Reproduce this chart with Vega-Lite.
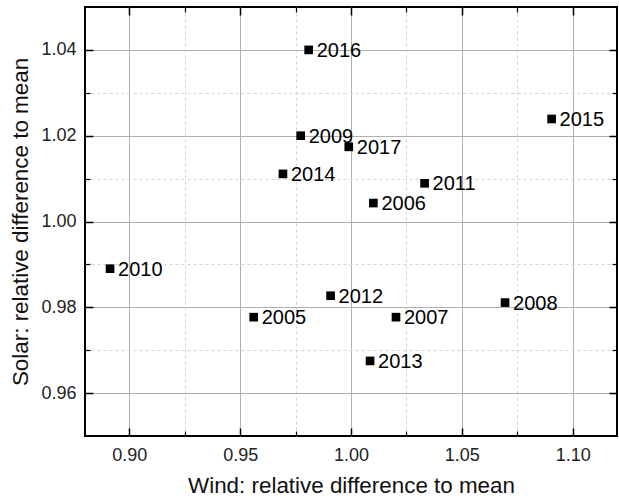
{
  "$schema": "https://vega.github.io/schema/vega-lite/v6.json",
  "width": 532,
  "height": 429,
  "autosize": {"type": "none"},
  "padding": {"left": 85, "top": 7, "right": 2, "bottom": 64},
  "background": "#ffffff",
  "config": {
    "font": "Liberation Sans",
    "view": {"stroke": "#000000", "strokeWidth": 2},
    "axis": {"labelFont": "Liberation Sans", "titleFont": "Liberation Sans", "titleFontWeight": "normal", "tickColor": "#000000", "domain": false}
  },
  "data": {
    "values": [
      {"year": "2005", "wind": 0.9561, "solar": 0.9777},
      {"year": "2006", "wind": 1.0101, "solar": 1.0043},
      {"year": "2007", "wind": 1.0203, "solar": 0.9777},
      {"year": "2008", "wind": 1.0695, "solar": 0.9811},
      {"year": "2009", "wind": 0.9773, "solar": 1.0200},
      {"year": "2010", "wind": 0.8913, "solar": 0.9890},
      {"year": "2011", "wind": 1.0332, "solar": 1.0089},
      {"year": "2012", "wind": 0.9908, "solar": 0.9827},
      {"year": "2013", "wind": 1.0086, "solar": 0.9675},
      {"year": "2014", "wind": 0.9693, "solar": 1.0111},
      {"year": "2015", "wind": 1.0905, "solar": 1.0239},
      {"year": "2016", "wind": 0.9809, "solar": 1.0400},
      {"year": "2017", "wind": 0.9990, "solar": 1.0174}
    ]
  },
  "resolve": {"axis": {"x": "independent", "y": "independent"}},
  "layer": [
    {
      "mark": {"type": "point", "opacity": 0},
      "encoding": {
        "x": {"field": "wind", "type": "quantitative", "scale": {"domain": [0.88, 1.12], "nice": false, "zero": false},
          "axis": {"orient": "bottom", "values": [0.925, 0.975, 1.025, 1.075], "grid": true, "gridDash": [3, 3], "gridColor": "#d4d4d4", "gridWidth": 1, "tickSize": -5, "tickWidth": 1.2, "labels": false, "title": null}},
        "y": {"field": "solar", "type": "quantitative", "scale": {"domain": [0.95, 1.05], "nice": false, "zero": false},
          "axis": {"orient": "left", "values": [0.97, 0.99, 1.01, 1.03], "grid": true, "gridDash": [3, 3], "gridColor": "#d4d4d4", "gridWidth": 1, "tickSize": -5, "tickWidth": 1.2, "labels": false, "title": null}}
      }
    },
    {
      "mark": {"type": "point", "opacity": 0},
      "encoding": {
        "x": {"field": "wind", "type": "quantitative",
          "axis": {"orient": "top", "values": [0.925, 0.975, 1.025, 1.075], "grid": false, "tickSize": -5, "tickWidth": 1.2, "labels": false, "title": null}},
        "y": {"field": "solar", "type": "quantitative",
          "axis": {"orient": "right", "values": [0.97, 0.99, 1.01, 1.03], "grid": false, "tickSize": -5, "tickWidth": 1.2, "labels": false, "title": null}}
      }
    },
    {
      "mark": {"type": "point", "opacity": 0},
      "encoding": {
        "x": {"field": "wind", "type": "quantitative",
          "axis": {"orient": "top", "values": [0.9, 0.95, 1.0, 1.05, 1.1], "grid": false, "tickSize": -8, "tickWidth": 1.5, "labels": false, "title": null}},
        "y": {"field": "solar", "type": "quantitative",
          "axis": {"orient": "right", "values": [0.96, 0.98, 1.0, 1.02, 1.04], "grid": false, "tickSize": -8, "tickWidth": 1.5, "labels": false, "title": null}}
      }
    },
    {
      "mark": {"type": "square", "color": "#000000", "opacity": 1, "size": 75},
      "encoding": {
        "x": {"field": "wind", "type": "quantitative",
          "axis": {"orient": "bottom", "values": [0.9, 0.95, 1.0, 1.05, 1.1], "format": ".2f", "grid": true, "gridColor": "#b0b0b0", "gridWidth": 1, "tickSize": -8, "tickWidth": 1.5, "labelPadding": 18, "labelFontSize": 18, "labelColor": "#222222", "title": "Wind: relative difference to mean", "titleFontSize": 22.4, "titleColor": "#111111", "titlePadding": 10}},
        "y": {"field": "solar", "type": "quantitative",
          "axis": {"orient": "left", "values": [0.96, 0.98, 1.0, 1.02, 1.04], "format": ".2f", "grid": true, "gridColor": "#b0b0b0", "gridWidth": 1, "tickSize": -8, "tickWidth": 1.5, "labelPadding": 17, "labelFontSize": 18, "labelColor": "#222222", "title": "Solar: relative difference to mean", "titleFontSize": 22.4, "titleColor": "#111111", "titlePadding": 8}}
      }
    },
    {
      "mark": {"type": "text", "align": "left", "baseline": "middle", "dx": 8, "dy": 1, "fontSize": 20, "color": "#000000"},
      "encoding": {
        "x": {"field": "wind", "type": "quantitative", "axis": null},
        "y": {"field": "solar", "type": "quantitative", "axis": null},
        "text": {"field": "year"}
      }
    }
  ]
}
